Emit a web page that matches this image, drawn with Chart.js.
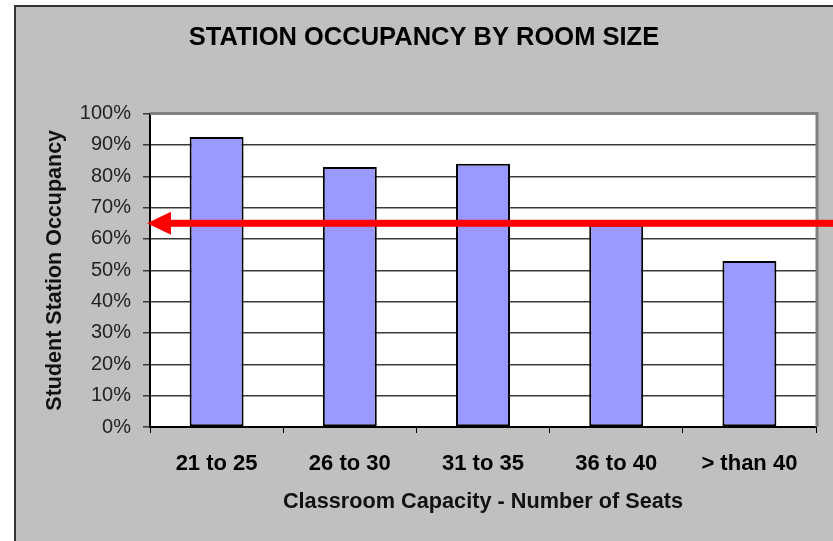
<!DOCTYPE html>
<html>
<head>
<meta charset="utf-8">
<script src="https://cdn.jsdelivr.net/npm/chart.js@4/dist/chart.umd.min.js"></script>
<style>
  body { margin: 0; background: #fff; }
  #wrap { width: 833px; height: 541px; }
</style>
</head>
<body>
<div id="wrap"><canvas id="myChart"></canvas></div>
<script>
const categories = ["21 to 25", "26 to 30", "31 to 35", "36 to 40", "> than 40"];
const occupancy = [92.5, 83, 84, 64.5, 53];
const yTicks = [0, 10, 20, 30, 40, 50, 60, 70, 80, 90, 100];
const arrowLevel = 65;

const FONT = "'Liberation Sans', Arial, sans-serif";

// gray frame + white plot area, drawn under everything
const frame = {
    id: "frame",
    beforeDraw(chart) {
        const { ctx, width, height, chartArea: a } = chart;
        ctx.save();
        ctx.fillStyle = "#fff";
        ctx.fillRect(0, 0, width, height);
        ctx.fillStyle = "#c0c0c0";
        ctx.fillRect(14, 5, width - 14, height - 5);
        ctx.strokeStyle = "#333";
        ctx.lineWidth = 2;
        ctx.beginPath();
        ctx.moveTo(15, height);
        ctx.lineTo(15, 6);
        ctx.lineTo(width, 6);
        ctx.stroke();
        ctx.fillStyle = "#fff";
        ctx.fillRect(a.left, a.top, a.right - a.left, a.bottom - a.top);
        ctx.restore();
    },
    beforeDatasetsDraw(chart) {
        const { ctx, chartArea: a } = chart;
        ctx.save();
        ctx.strokeStyle = "#808080";
        ctx.lineWidth = 3;
        ctx.beginPath();
        ctx.moveTo(a.left, a.top);
        ctx.lineTo(a.right + 1, a.top);
        ctx.lineTo(a.right + 1, a.bottom);
        ctx.stroke();
        ctx.restore();
    },
};

// red arrow pointing at the y axis
const arrow = {
    id: "arrow",
    afterDatasetsDraw(chart) {
        const { ctx, width, chartArea: a } = chart;
        const y = chart.scales.y.getPixelForValue(arrowLevel);
        const tip = a.left - 3;
        ctx.save();
        ctx.fillStyle = "#ff0000";
        ctx.fillRect(tip + 20, y - 3.5, width - tip - 20, 7);
        ctx.beginPath();
        ctx.moveTo(tip, y);
        ctx.lineTo(tip + 24, y - 11.5);
        ctx.lineTo(tip + 24, y + 11.5);
        ctx.closePath();
        ctx.fill();
        ctx.restore();
    },
};

const ctx = document.getElementById("myChart");

new Chart(ctx, {
    type: "bar",
    data: {
        labels: categories,
        datasets: [
            {
                data: occupancy,
                backgroundColor: "#9999ff",
                borderColor: "#000",
                borderWidth: 2,
                borderSkipped: false,
                barPercentage: 0.405,
                categoryPercentage: 1,
            },
        ],
    },
    options: {
        responsive: true,
        maintainAspectRatio: false,
        animation: false,
        layout: { padding: { left: 32, right: 17, top: 0, bottom: 0 } },
        scales: {
            x: {
                afterFit(s) { s.height = 114; },
                grid: {
                    drawOnChartArea: false,
                    drawTicks: true,
                    tickLength: 6,
                    color: "#000",
                    lineWidth: 1,
                },
                border: { color: "#000", width: 2 },
                ticks: {
                    color: "#000",
                    padding: 18,
                    font: { family: FONT, size: 22, weight: "bold" },
                },
                title: {
                    display: true,
                    text: "Classroom Capacity - Number of Seats",
                    color: "#111",
                    font: { family: FONT, size: 21.7, weight: "bold" },
                    padding: { top: 0, bottom: 26 },
                },
            },
            y: {
                min: 0,
                max: 100,
                afterFit(s) { s.width = 118; },
                afterBuildTicks(s) { s.ticks = yTicks.map((v) => ({ value: v })); },
                grid: {
                    color: "#3a3a3a",
                    lineWidth: 1.5,
                    tickLength: 7,
                },
                border: { color: "#000", width: 2 },
                ticks: {
                    color: "#222",
                    padding: 12,
                    font: { family: FONT, size: 20 },
                    callback: (v) => v + "%",
                },
                title: {
                    display: true,
                    text: "Student Station Occupancy",
                    color: "#111",
                    font: { family: FONT, size: 21.5, weight: "bold" },
                    padding: { top: 10, bottom: 0 },
                },
            },
        },
        plugins: {
            legend: { display: false },
            tooltip: { enabled: false },
            title: {
                display: true,
                text: "STATION OCCUPANCY BY ROOM SIZE",
                color: "#000",
                font: { family: FONT, size: 25.5, weight: "bold" },
                padding: { top: 23, bottom: 60 },
            },
        },
    },
    plugins: [frame, arrow],
});
</script>
</body>
</html>
